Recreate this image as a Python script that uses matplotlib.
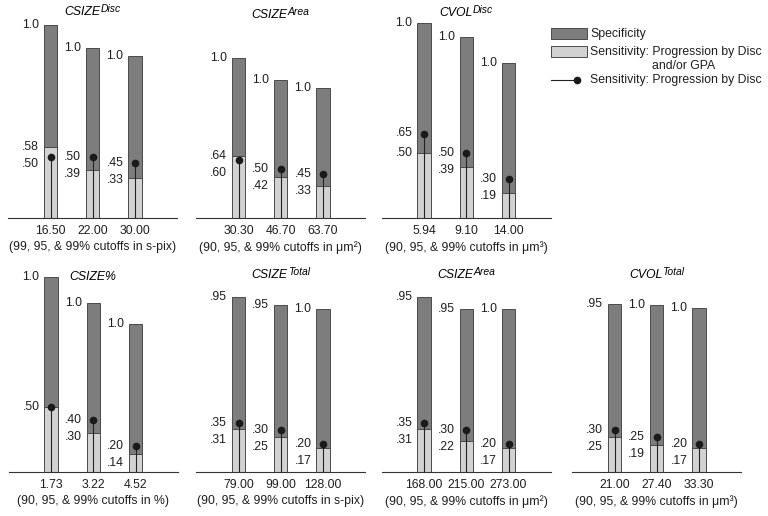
import matplotlib
matplotlib.use("Agg")
import matplotlib.pyplot as plt
import matplotlib.transforms as mtransforms
from matplotlib.patches import Rectangle
from matplotlib.lines import Line2D

plt.rcParams['font.family'] = ['Liberation Sans', 'DejaVu Sans']

# data, one entry per panel
title_base = ["CSIZE", "CSIZE", "CVOL", "CSIZE%", "CSIZE", "CSIZE", "CVOL"]
title_sup = ["Disc", "Area", "Disc", "", "Total", "Area", "Total"]
cutoffs = [["16.50", "22.00", "30.00"],
           ["30.30", "46.70", "63.70"],
           ["5.94", "9.10", "14.00"],
           ["1.73", "3.22", "4.52"],
           ["79.00", "99.00", "128.00"],
           ["168.00", "215.00", "273.00"],
           ["21.00", "27.40", "33.30"]]
xlabels = ["(99, 95, & 99% cutoffs in s-pix)",
           "(90, 95, & 99% cutoffs in μm²)",
           "(90, 95, & 99% cutoffs in μm³)",
           "(90, 95, & 99% cutoffs in %)",
           "(90, 95, & 99% cutoffs in s-pix)",
           "(90, 95, & 99% cutoffs in μm²)",
           "(90, 95, & 99% cutoffs in μm³)"]
specificity = [[1.0, 1.0, 1.0], [1.0, 1.0, 1.0], [1.0, 1.0, 1.0],
               [1.0, 1.0, 1.0], [.95, .95, 1.0], [.95, .95, 1.0], [.95, 1.0, 1.0]]
sens_any = [[.58, .39, .33], [.64, .42, .33], [.50, .39, .19],
            [.50, .30, .14], [.31, .25, .17], [.31, .22, .17], [.25, .19, .17]]
sens_disc = [[.50, .50, .45], [.60, .50, .45], [.65, .50, .30],
             [.50, .40, .20], [.35, .30, .20], [.35, .30, .20], [.30, .25, .20]]

# layout (pixels)
W, H = 768, 516
bar0_px = [50.5, 238.5, 424, 51, 238.5, 424, 614.5]
row = [0, 0, 0, 1, 1, 1, 1]
row_top = [5, 262]
row_base = [218, 472]
px_unit = [122, 97.5, 130, 130, 139, 139, 140]
title_y = [12, 15, 13, 277, 275, 275, 275]
step = 42.25

DARK = "#7d7d7d"
LIGHT = "#d2d2d2"
EDGE = "#4a4a4a"
FS = 8.8


def fmt(v):
    if v >= 1.0:
        return "1.0"
    return ("%.2f" % v)[1:]


fig = plt.figure(figsize=(W / 100, H / 100), dpi=100)
renderer = fig.canvas.get_renderer()

for i in range(len(title_base)):
    r = row[i]
    left = bar0_px[i] - step
    width = 4 * step
    height = row_base[r] - row_top[r]
    ax = fig.add_axes([left / W, 1 - row_base[r] / H, width / W, height / H])
    ytop = height / px_unit[i]
    ax.set_xlim(-1, 3)
    ax.set_ylim(0, ytop)
    x = [0, 1, 2]
    ax.bar(x, sens_any[i], width=0.31, color=LIGHT, edgecolor=EDGE, linewidth=0.7)
    ax.bar(x, specificity[i], bottom=sens_any[i], width=0.31, color=DARK,
           edgecolor=EDGE, linewidth=0.7)
    ax.vlines(x, 0, sens_disc[i], color="#222222", linewidth=0.8)
    ax.plot(x, sens_disc[i], "o", color="#1a1a1a", markersize=4.5)

    lab_off = mtransforms.offset_copy(ax.transData, fig=fig, x=-5, y=0, units='dots')
    for j in x:
        xl = j - 0.155
        top = sens_any[i][j] + specificity[i][j]
        ax.text(xl, top, fmt(specificity[i][j]), ha="right", va="center",
                fontsize=FS, color="#1e1e1e", transform=lab_off)
        a, d = sens_any[i][j], sens_disc[i][j]
        hi, lo = max(a, d), min(a, d)
        ax.text(xl, hi, fmt(hi), ha="right", va="center", fontsize=FS,
                color="#1e1e1e", transform=lab_off)
        if lo != hi:
            lo_y = min(lo, hi - 17 / px_unit[i])
            ax.text(xl, lo_y, fmt(lo), ha="right", va="center", fontsize=FS,
                    color="#1e1e1e", transform=lab_off)

    for s in ["left", "right", "top"]:
        ax.spines[s].set_visible(False)
    ax.spines["bottom"].set_color("#333333")
    ax.spines["bottom"].set_linewidth(0.8)
    ax.set_yticks([])
    ax.set_xticks(x)
    ax.set_xticklabels(cutoffs[i], fontsize=FS, color="#1e1e1e")
    ax.tick_params(axis="x", length=0, pad=5)
    ax.set_xlabel(xlabels[i], fontsize=FS, labelpad=3, color="#1e1e1e")

    # title: italic base + superscript, centred over the middle bar
    tr = mtransforms.blended_transform_factory(ax.transData, fig.transFigure)
    ty = 1 - title_y[i] / H
    tb = ax.text(1, ty, title_base[i], ha="left", va="center", fontsize=FS,
                 fontstyle="italic", transform=tr)
    ts = ax.text(1, ty, title_sup[i], ha="left", va="center", fontsize=FS * 0.85,
                 fontstyle="italic", transform=tr)
    wb = tb.get_window_extent(renderer).width
    ws = ts.get_window_extent(renderer).width if title_sup[i] else 0
    tot = wb + ws
    tb.set_transform(mtransforms.offset_copy(tr, fig=fig, x=-tot / 2, y=0, units='dots'))
    ts.set_transform(mtransforms.offset_copy(tr, fig=fig, x=-tot / 2 + wb, y=3, units='dots'))

# legend drawn by hand
lg = fig.add_axes([0, 0, 1, 1])
lg.set_xlim(0, W)
lg.set_ylim(H, 0)
lg.axis("off")
lg.patch.set_alpha(0)
lg.add_patch(Rectangle((551, 28), 36, 11, facecolor=DARK, edgecolor=EDGE, linewidth=0.7))
lg.add_patch(Rectangle((551, 46), 36, 11, facecolor=LIGHT, edgecolor=EDGE, linewidth=0.7))
lg.add_line(Line2D([551, 577], [80, 80], color="#222222", linewidth=0.8))
lg.plot([577], [80], "o", color="#1a1a1a", markersize=4.5)
lg.text(590, 33.5, "Specificity", va="center", fontsize=FS, color="#1e1e1e")
lg.text(590, 51.5, "Sensitivity: Progression by Disc", va="center", fontsize=FS, color="#1e1e1e")
lg.text(652, 66, "and/or GPA", va="center", fontsize=FS, color="#1e1e1e")
lg.text(590, 80.5, "Sensitivity: Progression by Disc", va="center", fontsize=FS, color="#1e1e1e")

fig.savefig("out.png", dpi=100)
